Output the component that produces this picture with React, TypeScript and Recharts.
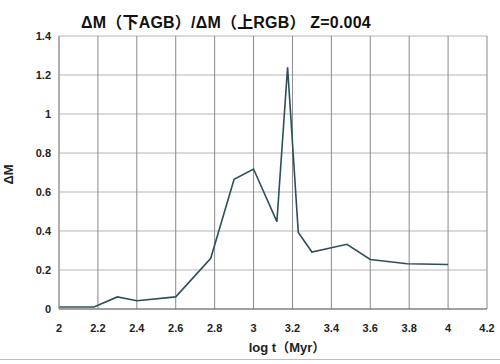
import React from "react";
import { LineChart, Line, XAxis, YAxis, CartesianGrid, Label } from "recharts";

// log t (Myr) and ΔM ratio
const logT = [2.0, 2.18, 2.3, 2.4, 2.6, 2.78, 2.9, 3.0, 3.12, 3.175, 3.23, 3.3, 3.48, 3.6, 3.79, 4.0];
const deltaM = [0.01, 0.01, 0.062, 0.042, 0.062, 0.26, 0.665, 0.718, 0.448, 1.24, 0.393, 0.292, 0.332, 0.254, 0.232, 0.228];

const xTicks = [2, 2.2, 2.4, 2.6, 2.8, 3, 3.2, 3.4, 3.6, 3.8, 4, 4.2];
const yTicks = [0, 0.2, 0.4, 0.6, 0.8, 1, 1.2, 1.4];

const title = "ΔM（下AGB）/ΔM（上RGB） Z=0.004";
const xTitle = "log t（Myr）";
const yTitle = "ΔM";

const data = logT.map((t, i) => ({ t, dm: deltaM[i] }));

const font = "'Liberation Sans', Arial, 'Noto Sans CJK SC', sans-serif";
const tickStyle = { fontSize: 11, fontWeight: 700, fill: "#222", fontFamily: font };

export default function App() {
  return (
    <div
      style={{
        position: "absolute",
        left: 0,
        top: 0,
        width: 500,
        height: 364,
        background: "#fff",
        fontFamily: font,
      }}
    >
      <div
        style={{
          position: "absolute",
          left: 0,
          width: 452,
          top: 9,
          textAlign: "center",
          fontSize: 16,
          fontWeight: 700,
          color: "#111",
          whiteSpace: "nowrap",
          letterSpacing: 0.2,
        }}
      >
        {title}
      </div>
      <LineChart
        width={500}
        height={364}
        data={data}
        margin={{ top: 36, right: 13, bottom: 0, left: 0 }}
      >
        <CartesianGrid horizontal={true} vertical={false} stroke="#b5b5b5" strokeWidth={1} />
        <CartesianGrid horizontal={false} vertical={true} stroke="#8a8a8a" strokeWidth={1} />
        <XAxis
          dataKey="t"
          type="number"
          domain={[2, 4.2]}
          ticks={xTicks}
          interval={0}
          height={55}
          tickLine={false}
          tickMargin={9}
          stroke="#666"
          tick={tickStyle}
        >
          <Label
            value={xTitle}
            position="insideBottom"
            offset={12}
            dx={14}
            style={{ fontSize: 13, fontWeight: 700, fill: "#222", fontFamily: font }}
          />
        </XAxis>
        <YAxis
          type="number"
          domain={[0, 1.4]}
          ticks={yTicks}
          interval={0}
          width={59}
          tickLine={false}
          stroke="#999"
          tick={tickStyle}
        >
          <Label
            value={yTitle}
            angle={-90}
            position="insideLeft"
            offset={8}
            dy={2}
            style={{ fontSize: 13, fontWeight: 700, fill: "#222", fontFamily: font, textAnchor: "middle" }}
          />
        </YAxis>
        <Line
          type="linear"
          dataKey="dm"
          stroke="#2f4f58"
          strokeWidth={1.6}
          dot={false}
          isAnimationActive={false}
        />
      </LineChart>
      <div
        style={{
          position: "absolute",
          left: 0,
          top: 359,
          width: 500,
          height: 0,
          borderTop: "1px solid #bcbcbc",
        }}
      />
    </div>
  );
}
